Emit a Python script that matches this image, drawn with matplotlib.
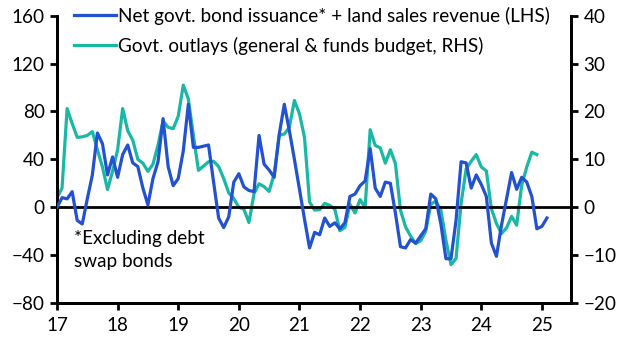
import matplotlib
matplotlib.use("Agg")
import matplotlib.pyplot as plt
import numpy as np

# Monthly data starting Jan 2017
issuance = [0, 8, 7, 13, -11, -14, 7, 27, 62, 53, 27, 42,
            25, 44, 52, 37, 34, 16, 2, 24, 38, 74, 34, 18,
            24, 47, 86, 50, 50, 51, 52, 21, -9, -17, -8, 21,
            28, 17, 14, 13, 60, 36, 31, 25, 61, 86, 64, 40,
            15, -10, -34, -21, -23, -9, -16, -13, -18, -13, 9, 11,
            18, 22, 49, 16, 9, 21, 20, -5, -33, -34, -27, -30,
            -24, -18, 11, 7, -14, -43, -43, -11, 38, 37, 16, 27,
            19, 9, -30, -41, -15, 7, 29, 15, 25, 21, 9, -18,
            -16, -9]
outlays = [2, 4, 20.6, 17.5, 14.6, 14.7, 15, 15.8, 12, 8.4, 3.7, 7.5,
           12, 20.6, 16, 14, 10, 9.2, 7.5, 9, 13, 18, 16.7, 16.4,
           19, 25.5, 22.6, 15, 7.7, 8.6, 9.5, 9.6, 8.5, 6, 3, 1.8,
           0, -0.4, -3.2, 2.8, 4.9, 4.3, 3.3, 7, 15, 15.3, 16.7, 22.3,
           19.5, 14.6, 1.1, -0.6, -0.5, 0.8, 0.4, -0.4, -4.9, -4.2, 0.6, -1.2,
           1.6, -0.1, 16.2, 12.9, 12.4, 9.2, 12, 9.1, -0.6, -4.1, -6, -7.6,
           -7, -5, 0.6, 1.3, -0.6, -6.9, -12, -10.7, 0.8, 8, 9.6, 11,
           8.4, 7.6, -0.3, -3.4, -5.5, -4.3, -1.9, -3.75, 4.6, 8.4, 11.5, 11]
year_ticks = list(range(2017, 2026))
year_labels = [str(y)[2:] for y in year_ticks]
lhs_ticks = [-80, -40, 0, 40, 80, 120, 160]
rhs_ticks = [-20, -10, 0, 10, 20, 30, 40]
label_issuance = "Net govt. bond issuance* + land sales revenue (LHS)"
label_outlays = "Govt. outlays (general & funds budget, RHS)"
note = "*Excluding debt\nswap bonds"

x_iss = 2017 + np.arange(len(issuance)) / 12
x_out = 2017 + np.arange(len(outlays)) / 12

BLUE = "#2251D1"
TEAL = "#19B8A4"
FONT = "Lato"
FS = 13.6

plt.rcParams['font.family'] = [FONT, 'DejaVu Sans']

fig = plt.figure(figsize=(6.29, 3.51), dpi=100)
ax = fig.add_axes([57/629, 1-303/351, (571-57)/629, (303-15.7)/351])
ax2 = ax.twinx()

ax.axhline(0, color='black', lw=2, zorder=1)
l1, = ax.plot(x_iss, issuance, color=BLUE, lw=2.3, zorder=3, label=label_issuance)
l2, = ax2.plot(x_out, outlays, color=TEAL, lw=2.3, zorder=2, label=label_outlays)

ax.set_xlim(2017, 2025.48)
ax.set_ylim(-80, 160)
ax2.set_ylim(-20, 40)
ax.set_yticks(lhs_ticks)
ax2.set_yticks(rhs_ticks)
ax.set_xticks(year_ticks)
ax.set_xticklabels(year_labels)

for a in (ax, ax2):
    a.spines['top'].set_visible(False)
    for s in ('left', 'right', 'bottom'):
        a.spines[s].set_linewidth(2)
    a.tick_params(axis='both', direction='out', length=5, width=2, labelsize=FS, colors='black', pad=4)
ax.tick_params(axis='x', pad=5)
ax.set_zorder(ax2.get_zorder() + 1)
ax.patch.set_visible(False)

fig.legend([l1, l2], [label_issuance, label_outlays], loc='upper left',
           bbox_to_anchor=(74/629, 1-7/351), frameon=False, fontsize=FS,
           handlelength=2.2, handletextpad=0.15, labelspacing=0.62, borderpad=0, borderaxespad=0)

fig.text(74/629, 1-230/351, note, fontsize=FS, va='top', ha='left', linespacing=1.4)

fig.savefig("out.png", dpi=100)
